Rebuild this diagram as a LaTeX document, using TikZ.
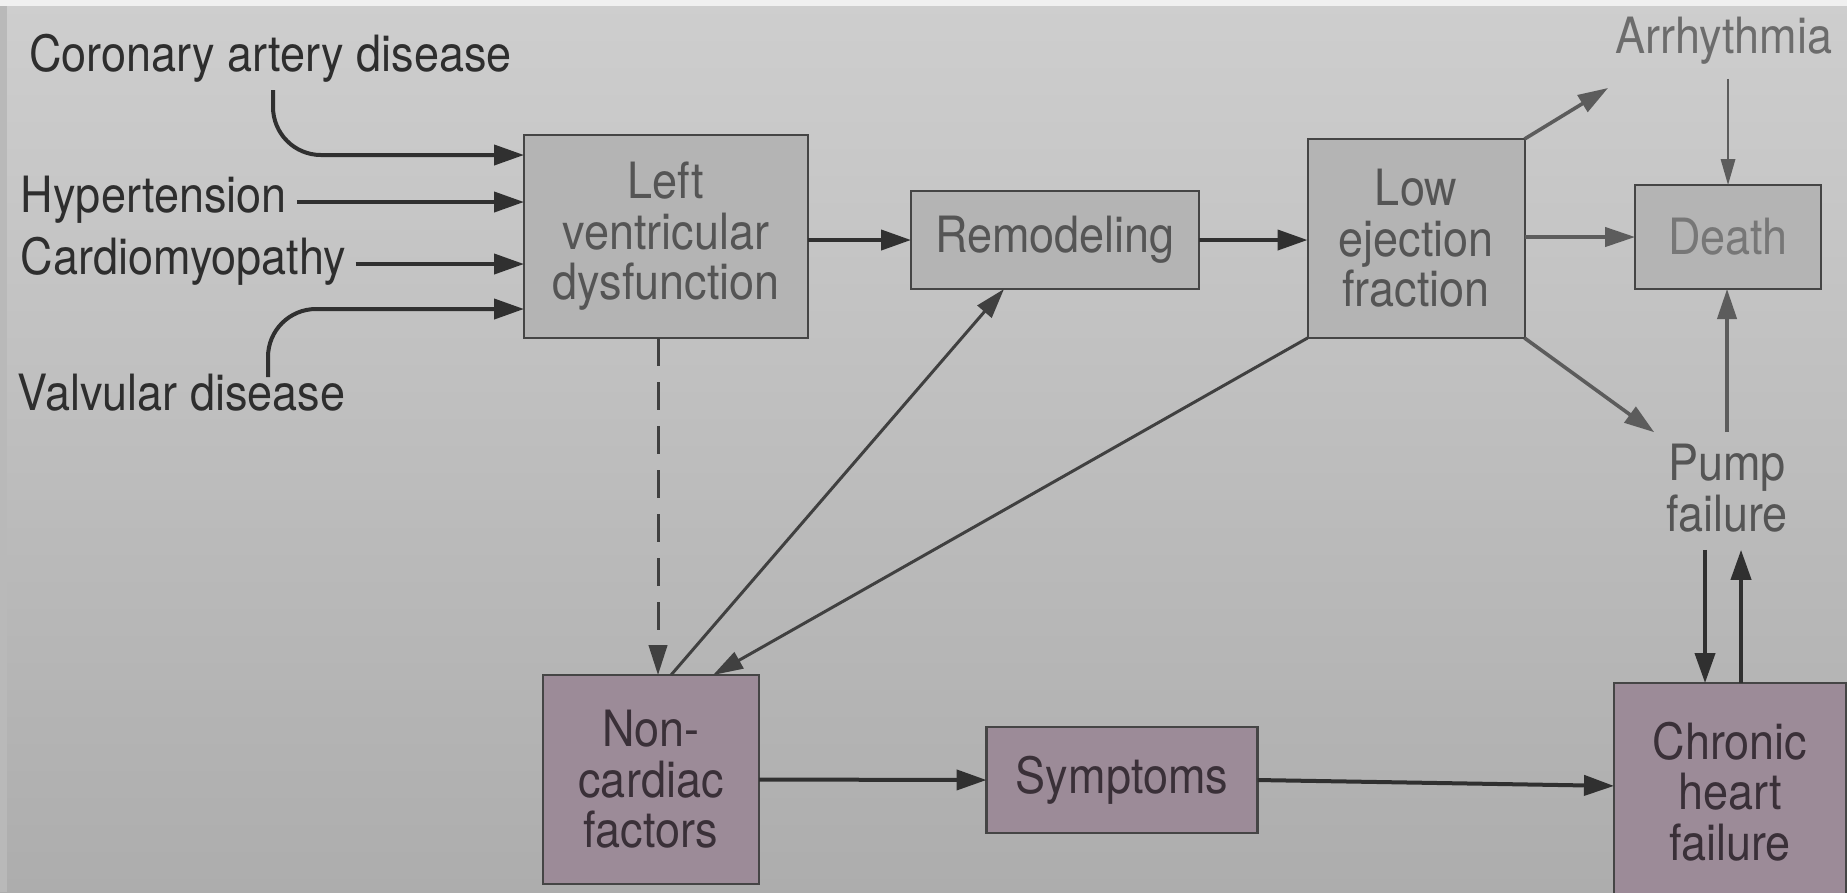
\documentclass[tikz,border=0pt]{standalone}
\usepackage{fontspec}
\setmainfont[FakeStretch=0.9]{TeX Gyre Heros}
\usetikzlibrary{arrows.meta}
\definecolor{bgtop}{HTML}{CECECE}
\definecolor{bgbot}{HTML}{ADADAD}
\definecolor{gfill}{HTML}{B4B4B4}
\definecolor{pfill}{HTML}{9C8B98}
\definecolor{edgedark}{HTML}{454545}
\definecolor{gtext}{HTML}{555555}
\definecolor{ptext}{HTML}{3A3038}
\definecolor{ltext}{HTML}{2E2E2E}
\definecolor{arrdark}{HTML}{303030}
\definecolor{arrmid}{HTML}{404040}
\definecolor{arrlight}{HTML}{5C5C5C}
\begin{document}
\begin{tikzpicture}[x=0.25pt,y=-0.25pt,
  font=\fontsize{12.5}{12.6}\selectfont,
  gbox/.style={draw=edgedark, line width=0.5pt, fill=gfill, text=gtext, align=center, inner sep=0pt, outer sep=0pt},
  pbox/.style={draw=edgedark, line width=0.6pt, fill=pfill, text=ptext, align=center, inner sep=0pt, outer sep=0pt},
  lbl/.style={text=ltext, inner sep=0pt, outer sep=0pt},
  arr/.style={draw=arrdark, line width=1pt, -{Triangle[length=7.5pt,width=5pt]}},
  arrthin/.style={draw=arrmid, line width=0.75pt, -{Triangle[length=7.5pt,width=4.6pt]}},
  arrlt/.style={draw=arrlight, line width=0.9pt, -{Triangle[length=7.5pt,width=4.8pt]}},
  arrhair/.style={draw=arrlight, line width=0.5pt, -{Triangle[length=6.5pt,width=3.6pt]}}
]
\useasboundingbox (0,0) rectangle (1847,892);
\clip (0,0) rectangle (1847,892);
\shade[top color=bgtop, bottom color=bgbot] (0,0) rectangle (1847,892);
\fill[gray!55] (0,0) rectangle (7,892);
\fill[white!88!gray] (0,0) rectangle (1847,6);

% boxes
\node[gbox, minimum width=71pt, minimum height=50.75pt] (LVD) at (666,236.5) {Left\\ventricular\\dysfunction};
\node[gbox, minimum width=72pt, minimum height=24.5pt] (Rem) at (1055,240) {Remodeling};
\node[gbox, minimum width=54.25pt, minimum height=49.75pt] (LEF) at (1416,238.5) {Low\\ejection\\fraction};
\node[gbox, minimum width=46.5pt, minimum height=26pt, text=gtext!80!white] (Death) at (1728,237) {Death};
\node[pbox, minimum width=54pt, minimum height=52.25pt] (NCF) at (651,779.5) {Non-\\cardiac\\factors};
\node[pbox, minimum width=67.75pt, minimum height=26.5pt] (Sym) at (1122,780) {Symptoms};
\node[pbox, minimum width=58pt, minimum height=54.25pt] (CHF) at (1730,791.5) {Chronic\\heart\\failure};

% labels
\node[lbl, anchor=base west] (cad) at (29,71) {Coronary artery disease};
\node[lbl, anchor=base west] (hyp) at (21,212) {Hypertension};
\node[lbl, anchor=base west] (cmp) at (21,274) {Cardiomyopathy};
\node[lbl, anchor=base west] (val) at (18,410) {Valvular disease};
\node[lbl, text=arrlight!90!white, anchor=base] (arh) at (1724,53) {Arrhythmia};
\node[lbl, text=gtext, align=center] (pump) at (1727,488) {Pump\\failure};

% coordinates for free ends
\coordinate (cadS) at (273,90);
\coordinate (c155) at (0,155);
\coordinate (valS) at (268,377);
\coordinate (c309) at (0,309);
\coordinate (arhTip) at (1608,88);

% left inputs
\draw[arr, rounded corners=12pt] (cadS) -- (cadS |- c155) -- (LVD.west |- c155);
\draw[arr] ([shift={(2.5pt,2.5pt)}]hyp.base east) coordinate (h0) -- (LVD.west |- h0);
\draw[arr] ([shift={(2.5pt,2.5pt)}]cmp.base east) coordinate (m0) -- (LVD.west |- m0);
\draw[arr, rounded corners=12pt] (valS) -- (valS |- c309) -- (LVD.west |- c309);

% main chain
\draw[arr] (LVD.east |- Rem.west) -- (Rem.west);
\draw[arr] (Rem.east) -- (Rem.east -| LEF.west);
\draw[arrlt] (LEF.east |- Death.west) -- (Death.west);
\draw[arrlt] (LEF.north east) -- (arhTip);
\draw[arrhair] ([yshift=-3.75pt]arh.south -| Death.north) -- (Death.north);
\draw[arrlt] (LEF.south east) -- ([shift={(-3pt,3pt)}]pump.north west);
\draw[arrlt] ([yshift=3pt]pump.north) -- (pump.north |- Death.south);

% pump <-> CHF
\draw[arr] ([shift={(-6.25pt,-4.5pt)}]pump.south -| CHF.north) coordinate (pd) -- (pd |- CHF.north);
\draw[arr] ([xshift=2.75pt]CHF.north) coordinate (pu) -- (pu |- pd);

% to / from non-cardiac factors
\draw[arrthin, dashed, dash pattern=on 7pt off 4pt] ([xshift=-2pt]LVD.south) coordinate (d0) -- (d0 |- NCF.north);
\draw[arrthin] ([xshift=5pt]NCF.north) -- ([xshift=-12.75pt]Rem.south);
\draw[arrthin] (LEF.south west) -- ([xshift=15.5pt]NCF.north);

% bottom chain
\draw[arr] (NCF.east) -- (Sym.west);
\draw[arr] (Sym.east) -- ([yshift=1.4pt]CHF.west);
\end{tikzpicture}
\end{document}
